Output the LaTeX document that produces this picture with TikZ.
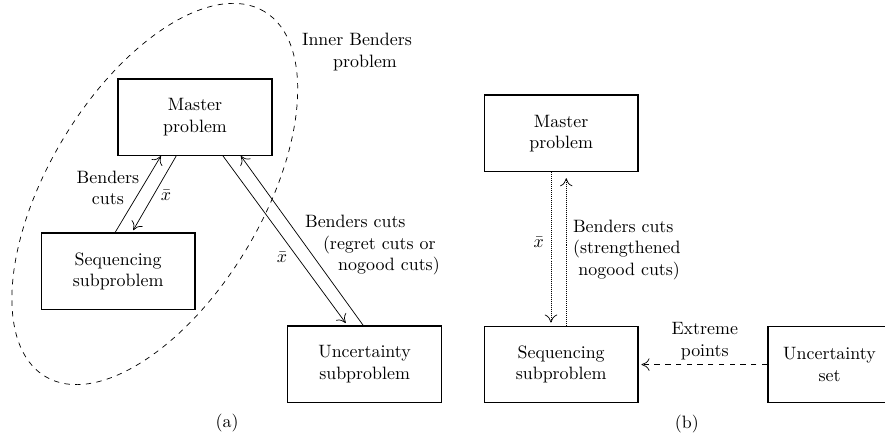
\documentclass[tikz,border=0pt]{standalone}
\usepackage{amsmath,amssymb}
\usepackage{xcolor}
\usepackage{tikz}
\usetikzlibrary{arrows.meta}

\begin{document}
\begin{tikzpicture}[>={Computer Modern Rightarrow[length=4.5pt,width=7pt]}]
		\useasboundingbox (0,0) rectangle (17.38,8.70);
		\tikzstyle{box}=[draw,line width=0.8pt,rectangle,minimum width=3.02cm,minimum height=1.5cm,align=center]
		\tikzstyle{lbl}=[inner sep=1pt,align=center]
		\tikzstyle{every path}+=[line width=0.4pt]
		% (a)
		\node[box] (ma) at (3.83,6.40) {Master\\problem};
		\node[box] (sa) at (2.32,3.37) {Sequencing\\subproblem};
		\node[box] (ua) at (7.16,1.55) {Uncertainty\\subproblem};
		\draw[dashed] (3.04,4.89) ellipse [x radius=4.18cm,y radius=2.10cm,rotate=59];
		\node[lbl] (ib) at (7.01,7.68) {Inner Benders\\\hspace*{0.9em}problem};
		\draw[->] ([xshift=-0.06cm]sa.north) -- ([xshift=-0.67cm]ma.south);
		\draw[->,shorten >=1.5pt] ([xshift=-0.37cm]ma.south) -- ([xshift=0.27cm]sa.north);
		\draw[->,shorten >=1.5pt] ([xshift=0.55cm]ma.south) -- ([xshift=-0.34cm]ua.north);
		\draw[->] ([xshift=-0.03cm]ua.north) -- ([xshift=0.90cm]ma.south);
		\node[lbl] (bc1) at (2.12,5.01) {Benders\\cuts};
		\node[lbl] (x1) at (3.26,4.87) {$\bar{x}$};
		\node[lbl] (x2) at (5.54,3.65) {$\bar{x}$};
		\node[lbl,anchor=west,align=left] (bc2) at (5.95,3.88) {Benders cuts\\\hspace*{1em}(regret cuts or\\\hspace*{1.85em}nogood cuts)};
		\node (la) at (4.46,0.39) {(a)};
		% (b)
		\node[box] (mb) at (11.02,6.08) {Master\\problem};
		\node[box] (sb) at (11.02,1.54) {Sequencing\\subproblem};
		\node[box,minimum width=2.42cm] (ub) at (16.29,1.54) {Uncertainty\\set};
		\tikzstyle{fine}=[dash pattern=on 0.56pt off 0.56pt]
		\draw[->,fine,shorten >=1.7pt] ([xshift=-0.20cm]mb.south) -- ([xshift=-0.20cm]sb.north);
		\draw[->,fine,shorten >=3.3pt] ([xshift=0.10cm]sb.north) -- ([xshift=0.10cm]mb.south);
		\draw[->,dashed,shorten >=1.5pt] (ub.west) -- (sb.east);
		\node[lbl] (x3) at (10.58,3.93) {$\bar{x}$};
		\node[lbl,align=left] (bc3) at (12.31,3.79) {Benders cuts\\(strengthened\\\hspace*{0.3em}nogood cuts)};
		\node[lbl] (ep) at (13.84,2.00) {Extreme\\points};
		\node (lb) at (13.49,0.37) {(b)};
\end{tikzpicture}
\end{document}
